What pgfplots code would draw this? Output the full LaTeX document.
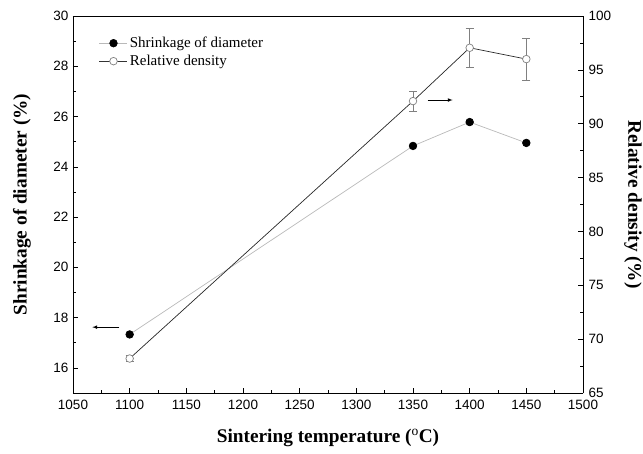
\documentclass[border=0pt]{standalone}
\usepackage{fontspec}
\setmainfont{Liberation Serif}
\setsansfont{Liberation Sans}
\usepackage{pgfplots}
\pgfplotsset{compat=1.18}
\begin{document}
\begin{tikzpicture}
\pgfplotsset{
  common/.style={
    width=510pt, height=377pt, scale only axis,
    at={(0pt,0pt)}, anchor=south west,
    xmin=1050, xmax=1500,
    /pgf/number format/assume math mode=true,
    /pgf/number format/.cd, 1000 sep={}, /pgfplots/.cd,
    ticklabel style={font=\sffamily\fontsize{13.5}{14}\selectfont},
    tick align=inside,
    major tick length=5pt, minor tick length=3pt,
    tick style={black, line width=0.6pt},
    axis line style={line width=0.7pt},
  }
}
\begin{axis}[common,
  ymin=15, ymax=30,
  xtick={1050,1100,...,1500},
  minor x tick num=1,
  ytick={16,18,...,30},
  minor y tick num=1,
  axis x line*=bottom,
  axis y line*=left,
  xticklabel style={yshift=-4pt},
  yticklabel style={xshift=-1pt},
  xlabel={\bfseries Sintering temperature ($^{\mathrm{o}}$C)},
  xlabel style={font=\fontsize{19.3}{21}\selectfont\bfseries,
    at={(axis description cs:0.5,-0.119)}, anchor=center},
  ylabel={\bfseries Shrinkage of diameter (\%)},
  ylabel style={font=\fontsize{19.3}{21}\selectfont\bfseries,
    at={(axis description cs:-0.1,0.5)}, anchor=center},
  legend style={draw=none, fill=none, at={(0.045,0.955)}, anchor=north west,
    font=\fontsize{15}{17}\selectfont, row sep=2pt},
  legend cell align=left,
  legend image code/.code={\draw[mark repeat=2,mark phase=2,#1]
    plot coordinates {(0pt,0pt) (14pt,0pt) (28pt,0pt)};},
]
\draw[-latex, line width=0.7pt] (axis cs:1091,17.62) -- (axis cs:1067,17.62);
\draw[black, line width=0.7pt] (axis cs:1050,30) -- (axis cs:1500,30);
\addplot[gray!55, line width=0.7pt, mark=*, mark size=3.8pt,
  mark options={fill=black, draw=black}]
  coordinates {(1100,17.33) (1350,24.83) (1400,25.78) (1450,24.95)};
\addlegendentry{Shrinkage of diameter}
\addlegendimage{black!80, line width=0.7pt, mark=*, mark size=3.8pt,
  mark options={draw=gray, fill=white}}
\addlegendentry{Relative density}
\end{axis}
\begin{axis}[common,
  ymin=65, ymax=100,
  ytick={65,70,...,100},
  minor y tick num=1,
  axis x line=none,
  axis y line*=right,
  yticklabel style={xshift=2pt},
  ylabel={\bfseries Relative density (\%)},
  ylabel style={font=\fontsize{19.3}{21}\selectfont\bfseries, rotate=180,
    at={(axis description cs:1.098,0.5)}, anchor=center},
]
\draw[-latex, line width=0.7pt] (axis cs:1363,92.2) -- (axis cs:1385,92.2);
\addplot[black!85, line width=0.7pt, mark=*, mark size=3.8pt,
  mark options={draw=gray, fill=white},
  error bars/.cd, y dir=both, y explicit,
  error bar style={gray, line width=0.6pt},
  error mark options={rotate=90, mark size=4pt, gray, line width=0.6pt}]
  coordinates {(1100,68.2) +- (0,0.3) (1350,92.1) +- (0,0.95) (1400,97.05) +- (0,1.8) (1450,96.0) +- (0,1.95)};
\end{axis}
\pgfresetboundingbox
\path (-73pt,-60pt) rectangle (570pt,393pt);
\end{tikzpicture}
\end{document}
